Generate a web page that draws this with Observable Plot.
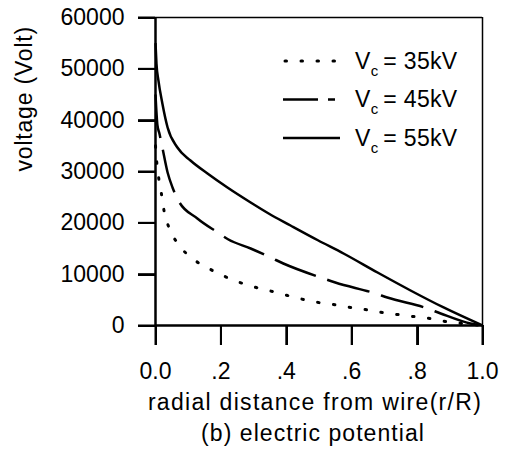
<!DOCTYPE html>
<html>
<head>
<meta charset="utf-8">
<script src="https://cdn.jsdelivr.net/npm/d3@7"></script>
<script src="https://cdn.jsdelivr.net/npm/@observablehq/plot@0.6"></script>
<style>
  html, body { margin: 0; padding: 0; background: #fff; overflow: hidden; }
  #chart { position: relative; width: 508px; height: 463px; overflow: hidden; }
  .tk { position: absolute; background: #000; pointer-events: none; }
  .lbl-x text { letter-spacing: 1.3px; }
  .lbl-cap text { letter-spacing: 1.05px; }
  .lbl-y text { letter-spacing: 0.8px; }
</style>
</head>
<body>
<div id="chart"></div>
<script>
// ---- data ----
const xTicks = [0, 0.2, 0.4, 0.6, 0.8, 1.0];
const xTickLabels = ["0.0", ".2", ".4", ".6", ".8", "1.0"];
const yTicks = [0, 10000, 20000, 30000, 40000, 50000, 60000];
const xDomain = [0, 1];
const yDomain = [0, 60000];

const seriesNames = ["35kV", "45kV", "55kV"];

const x35 = [0, 0.004, 0.010, 0.018, 0.026, 0.041, 0.068, 0.113, 0.163, 0.212, 0.258, 0.308, 0.358, 0.404, 0.453, 0.498, 0.544, 0.596, 0.642, 0.694, 0.740, 0.789, 0.841, 0.887, 0.939, 1.0];
const y35 = [35000, 31700, 28640, 25710, 22400, 19090, 15970, 13050, 11100, 9550, 8380, 7400, 6620, 5840, 5060, 4480, 4090, 3510, 3120, 2530, 2140, 1750, 1360, 780, 390, 0];

const x45 = [0, 0.006, 0.012, 0.021, 0.037, 0.052, 0.070, 0.128, 0.190, 0.223, 0.291, 0.352, 0.391, 0.505, 0.550, 0.673, 0.709, 0.832, 0.872, 0.963, 1.0];
const y45 = [45000, 38960, 37400, 34670, 29800, 26880, 24350, 20840, 18120, 16750, 15000, 13250, 12080, 9350, 8380, 6230, 5450, 3310, 2340, 390, 0];

const x55 = [0, 0.003, 0.009, 0.021, 0.037, 0.067, 0.107, 0.159, 0.220, 0.291, 0.346, 0.413, 0.498, 0.575, 0.679, 0.780, 0.881, 1.0];
const y55 = [55000, 51000, 47700, 43250, 38570, 34670, 32140, 29610, 26880, 23960, 21820, 19480, 16560, 14030, 10320, 6820, 3510, 0];

// ---- styles ----
const FONT = "'Liberation Sans', Arial, Helvetica, sans-serif";
const lineStyle = {
  "35kV": {strokeWidth: 3, strokeDasharray: "1.5,14.5", strokeLinecap: "round", legendDash: "1.5,14.5"},
  "45kV": {strokeWidth: 2.5, strokeDasharray: "44,12", strokeLinecap: "butt", legendDash: "35,10,7,20"},
  "55kV": {strokeWidth: 2.5, strokeDasharray: null, strokeLinecap: "butt", legendDash: null}
};

const toRows = (xs, ys, name) => xs.map((x, i) => ({x, y: ys[i], series: name}));
const rows = {
  "35kV": toRows(x35, y35, "35kV"),
  "45kV": toRows(x45, y45, "45kV"),
  "55kV": toRows(x55, y55, "55kV")
};

const lineMarks = seriesNames.map(name => Plot.line(rows[name], {
  x: "x", y: "y", stroke: "black", curve: "monotone-x",
  strokeWidth: lineStyle[name].strokeWidth,
  strokeDasharray: lineStyle[name].strokeDasharray,
  strokeLinecap: lineStyle[name].strokeLinecap
}));

const plot = Plot.plot({
  width: 508, height: 463,
  marginLeft: 155, marginRight: 26, marginTop: 17, marginBottom: 138,
  style: {fontFamily: FONT, fontSize: "23px", background: "white"},
  x: {domain: xDomain},
  y: {domain: yDomain},
  marks: [
    Plot.axisX({ticks: xTicks, tickSize: 0, tickPadding: 37, label: null,
      tickFormat: d => xTickLabels[xTicks.indexOf(d)]}),
    Plot.axisY({ticks: yTicks, tickSize: 0, tickPadding: 31, label: null,
      tickFormat: d => String(d)}),
    Plot.ruleX(xTicks, {x: d => d, y1: yDomain[0], y2: yDomain[0], insetTop: 0, insetBottom: -20, stroke: "black", strokeWidth: 2}),
    Plot.ruleY(yTicks, {y: d => d, x1: xDomain[0], x2: xDomain[0], insetLeft: -17, insetRight: 0, stroke: "black", strokeWidth: 2}),
    Plot.ruleY([yDomain[1]], {stroke: "black", strokeWidth: 1.5}),
    Plot.ruleX([xDomain[1]], {stroke: "black", strokeWidth: 1.5}),
    Plot.ruleX([xDomain[0]], {stroke: "black", strokeWidth: 2.5}),
    Plot.ruleY([yDomain[0]], {stroke: "black", strokeWidth: 2.5}),
    ...lineMarks,
    Plot.text(["voltage (Volt)"], {frameAnchor: "left", rotate: -90, dx: -131, fontSize: 23, className: "lbl-y"}),
    Plot.text(["radial distance from wire(r/R)"], {frameAnchor: "bottom", dy: 84, dx: -4, fontSize: 23, className: "lbl-x"}),
    Plot.text(["(b) electric potential"], {frameAnchor: "bottom", dy: 115, dx: -6, fontSize: 23, className: "lbl-cap"})
  ]
});

const chart = document.getElementById("chart");
chart.appendChild(plot);

// ---- tick lines and box edges placed with the plot's own scales (HTML layer) ----
const sx = plot.scale("x"), sy = plot.scale("y");
const addBar = (left, top, w, h) => {
  const d = document.createElement("div");
  d.className = "tk";
  Object.assign(d.style, {left: left + "px", top: top + "px", width: w + "px", height: h + "px"});
  chart.appendChild(d);
};
const X0 = sx.apply(xDomain[0]), X1 = sx.apply(xDomain[1]);
const Y0 = sy.apply(yDomain[0]), Y1 = sy.apply(yDomain[1]);
xTicks.forEach(v => addBar(Math.round(sx.apply(v)) - 0.5, Y0, 2, 20));
yTicks.forEach(v => addBar(X0 - 17, Math.round(sy.apply(v)) - 0.5, 17, 2));
addBar(X0, Y1 - 0.5, X1 - X0 + 1, 1.5);
addBar(X1 - 0.25, Y1 - 0.5, 1.5, Y0 - Y1 + 1);

// ---- legend (drawn into the plot's svg) ----
const legend = d3.select(plot).append("g").attr("aria-label", "legend");
const legX1 = 283, legX2 = 340, legTextX = 355, legY0 = 61, legDY = 38.5;
seriesNames.forEach((name, i) => {
  const y = legY0 + i * legDY;
  const st = lineStyle[name];
  legend.append("line")
    .attr("x1", name === "35kV" ? legX1 + 2 : legX1).attr("x2", legX2)
    .attr("y1", y).attr("y2", y)
    .attr("stroke", "black")
    .attr("stroke-width", st.strokeWidth)
    .attr("stroke-linecap", st.strokeLinecap)
    .attr("stroke-dasharray", st.legendDash);
  const t = legend.append("text")
    .attr("x", legTextX).attr("y", y + 7.5)
    .attr("text-anchor", "start")
    .attr("font-family", FONT).attr("font-size", 23)
    .attr("letter-spacing", "0.3px")
    .attr("fill", "black");
  t.append("tspan").text("V");
  t.append("tspan").attr("font-size", 15).attr("dy", 7).text("c");
  t.append("tspan").attr("dy", -7).text("\u2009= " + name);
});
</script>
</body>
</html>
